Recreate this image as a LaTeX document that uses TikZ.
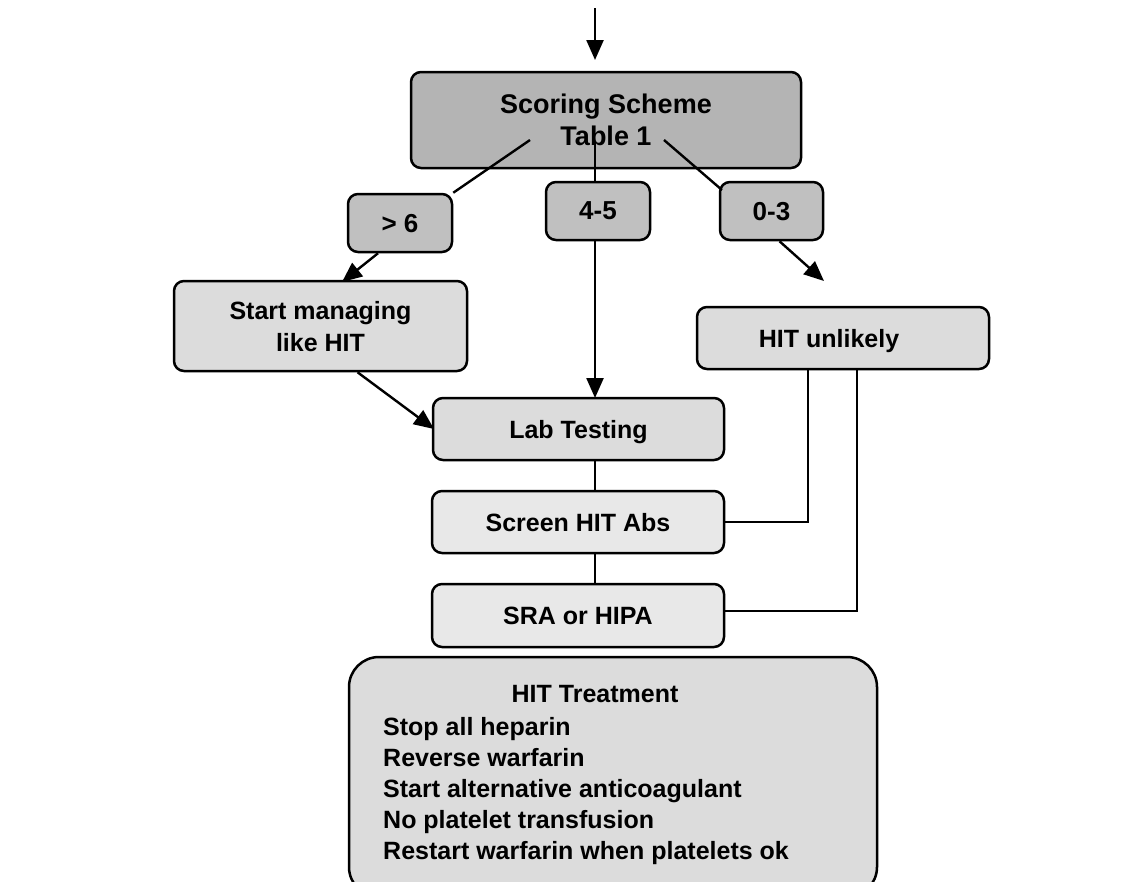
\documentclass[tikz,border=0pt]{standalone}
\usepackage{fontspec}
\setmainfont{Liberation Sans}
\usetikzlibrary{arrows.meta}
\definecolor{cdark}{HTML}{B4B4B4}
\definecolor{csmall}{HTML}{C0C0C0}
\definecolor{cmid}{HTML}{DCDCDC}
\definecolor{clight}{HTML}{E8E8E8}
\begin{document}
\begin{tikzpicture}[x=1pt,y=-1pt,
  box/.style={draw=black, line width=2.5pt, rounded corners=10pt, inner sep=0pt, align=center,
    text depth=0pt, font=\fontsize{25}{32}\selectfont\bfseries},
  conn/.style={line width=2.4pt},
  arr/.style={line width=2.4pt, -{Triangle[length=20pt,width=17pt]}}]
\useasboundingbox (0,0) rectangle (1145,881);
\node[box, fill=cdark, minimum width=390pt, minimum height=96pt, font=\fontsize{27}{32}\selectfont\bfseries] (score) at (606,120) {Scoring Scheme\\Table 1};
\node[box, fill=csmall, minimum width=104pt, minimum height=58pt, font=\fontsize{26}{32}\selectfont\bfseries] (g6) at (400,223) {> 6};
\node[box, fill=csmall, minimum width=104pt, minimum height=58pt, font=\fontsize{26}{32}\selectfont\bfseries] (g45) at (598,211) {4-5};
\node[box, fill=csmall, minimum width=103pt, minimum height=58pt, font=\fontsize{26}{32}\selectfont\bfseries] (g03) at (771.5,211) {0-3};
\node[box, fill=cmid, minimum width=293pt, minimum height=90pt] (start) at (320.5,326) {Start managing\\like HIT};
\node[box, fill=cmid, minimum width=292pt, minimum height=62pt] (unl) at (843,338) {HIT unlikely\hspace*{28pt}};
\node[box, fill=cmid, minimum width=291pt, minimum height=62pt] (lab) at (578.5,429) {Lab Testing};
\node[box, fill=clight, minimum width=292pt, minimum height=62pt] (scr) at (578,522) {Screen HIT Abs};
\node[box, fill=clight, minimum width=292pt, minimum height=63pt] (sra) at (578,615.5) {SRA or HIPA};
\node[box, fill=cmid, rounded corners=30pt, minimum width=528pt, minimum height=240pt] (treat) at (613,777) {};
\node[font=\fontsize{25}{31}\selectfont\bfseries, inner sep=0pt] (ttitle) at (595,694) {HIT Treatment};
\node[font=\fontsize{25}{31}\selectfont\bfseries, inner sep=0pt, align=left, anchor=north west] (tlist) at (383,717)
  {Stop all heparin\\Reverse warfarin\\Start alternative anticoagulant\\No platelet transfusion\\Restart warfarin when platelets ok};
\coordinate (top) at (595,8);
\coordinate (s1) at (530,140);
\coordinate (s2) at (595,142);
\coordinate (s3) at (664,140);
\draw[arr] (top) -- (595,60);
\draw[conn] (s1) -- (g6.north east);
\draw[conn] (s2) -- (s2 |- g45.north);
\draw[conn] (s3) -- (722,190);
\draw[arr] (g6.south) ++(-22,0) -- (342,282);
\draw[arr] (g03.south) ++(8,0) -- (824,281);
\draw[arr] (595,240) -- (595,398);
\draw[arr] (start.south) ++(37,0) -- (434,429);
\draw[conn] (595,460) -- (595,491);
\draw[conn] (595,553) -- (595,584);
\draw[conn] (808,369) |- (scr.east);
\draw[conn] (857,369) |- (724,611);
\end{tikzpicture}
\end{document}
